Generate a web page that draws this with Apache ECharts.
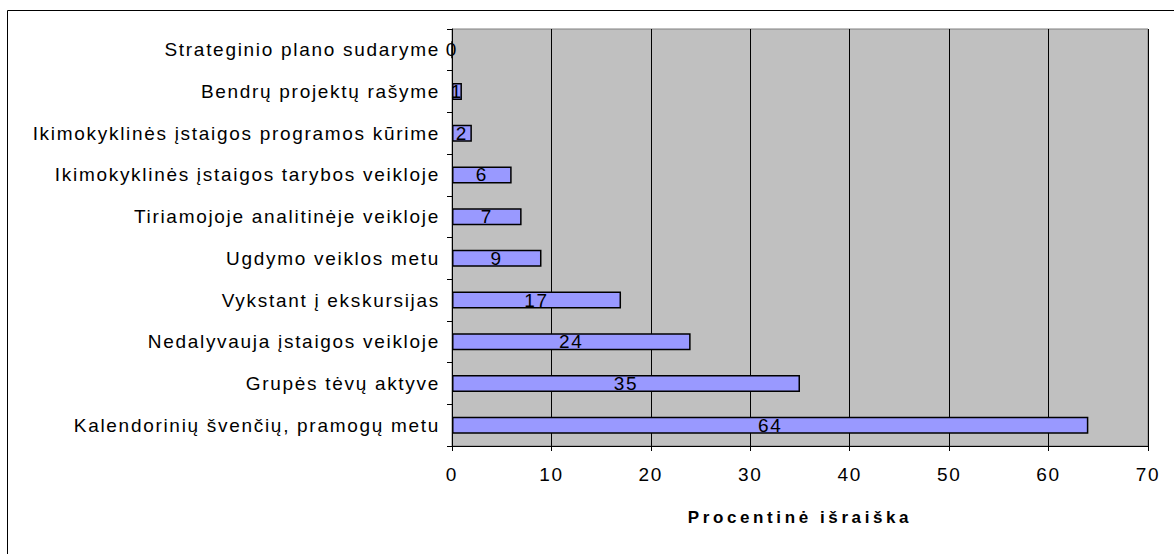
<!DOCTYPE html>
<html><head><meta charset="utf-8">
<script src="https://cdn.jsdelivr.net/npm/echarts@6/dist/echarts.min.js"></script>
<style>
html,body{margin:0;padding:0;background:#fff}
#c{width:1174px;height:554px}
#c svg text{letter-spacing:1.7px}
#c svg text[style*="bold"]{letter-spacing:3.6px}
</style>
</head><body><div id="c"></div>
<script>
const categories = [
  "Kalendorinių švenčių, pramogų metu",
  "Grupės tėvų aktyve",
  "Nedalyvauja įstaigos veikloje",
  "Vykstant į ekskursijas",
  "Ugdymo veiklos metu",
  "Tiriamojoje analitinėje veikloje",
  "Ikimokyklinės įstaigos tarybos veikloje",
  "Ikimokyklinės įstaigos programos kūrime",
  "Bendrų projektų rašyme",
  "Strateginio plano sudaryme"
];
const values = [64, 35, 24, 17, 9, 7, 6, 2, 1, 0];
const xTicks = [0, 10, 20, 30, 40, 50, 60, 70];
const axisTitle = "Procentinė išraiška";

const chart = echarts.init(document.getElementById('c'), null, {renderer: 'svg'});
const font = 'Liberation Sans, Arial, sans-serif';
chart.setOption({
  animation: false,
  graphic: [{type: 'rect', shape: {x: 7.5, y: 10.5, width: 1200, height: 600}, style: {fill: 'none', stroke: '#000', lineWidth: 1}, z: -1}],
  grid: {left: 452, right: 26, top: 29, bottom: 108, containLabel: false,
         show: true, backgroundColor: '#C0C0C0', borderColor: '#808080', borderWidth: 1},
  xAxis: {
    type: 'value', min: xTicks[0], max: xTicks[xTicks.length - 1], interval: 10,
    name: axisTitle, nameLocation: 'middle', nameGap: 63,
    nameTextStyle: {fontFamily: font, fontSize: 17, fontWeight: 'bold', color: '#000'},
    axisLine: {show: true, lineStyle: {color: '#000', width: 1}},
    axisTick: {show: true, length: 5, lineStyle: {color: '#000'}},
    axisLabel: {fontFamily: font, fontSize: 19, color: '#000', margin: 19},
    splitLine: {show: true, lineStyle: {color: '#000', width: 1}}
  },
  yAxis: {
    type: 'category', data: categories,
    axisLine: {show: true, lineStyle: {color: '#000', width: 1}},
    axisTick: {show: true, length: 5, lineStyle: {color: '#000'}},
    axisLabel: {fontFamily: font, fontSize: 19, color: '#000', margin: 12},
    splitLine: {show: false}
  },
  series: [{
    type: 'bar', data: values, barWidth: 17,
    itemStyle: {color: '#9999FF', borderColor: '#000', borderWidth: 1.5},
    label: {show: true, position: 'inside', fontFamily: font, fontSize: 19, color: '#000'}
  }]
});
</script></body></html>
